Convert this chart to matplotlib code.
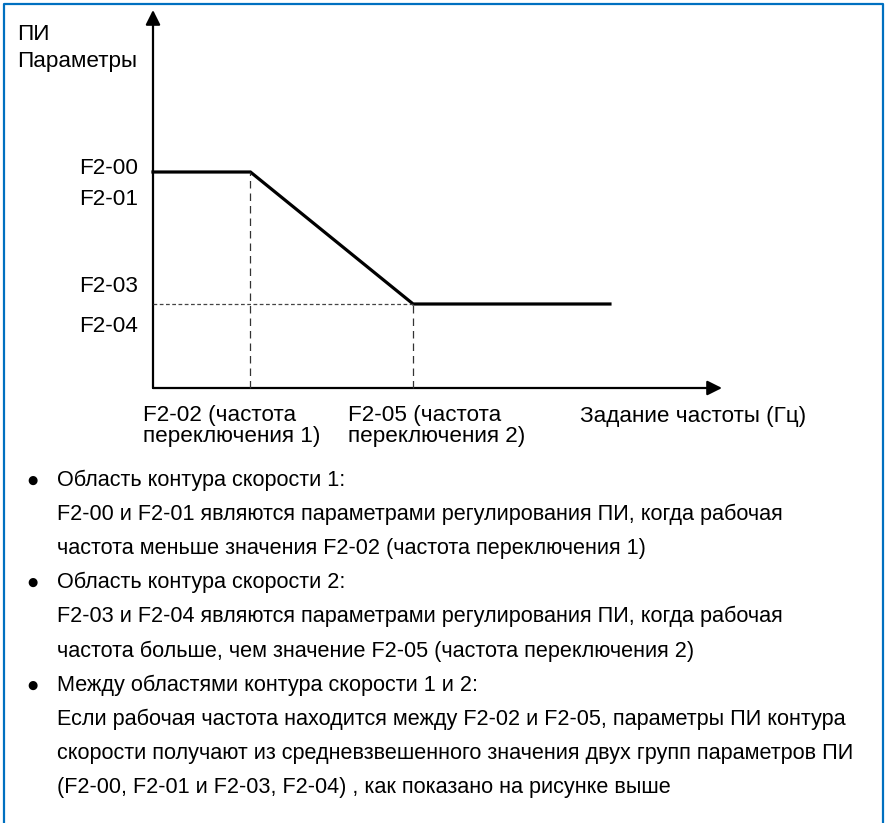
import matplotlib.pyplot as plt
from matplotlib.patches import FancyArrowPatch

plt.rcParams['font.family'] = ['Liberation Sans', 'DejaVu Sans']

# dati dello schema (unita' arbitrarie: frequenza / parametro PI)
curva_f = [0, 10, 26.7, 46.9]        # 0, F2-02, F2-05, fine
curva_p = [21.6, 21.6, 8.4, 8.4]     # F2-00/F2-01 ... F2-03/F2-04
f_max = 58.4
p_max = 37.8

etichette_y = ['F2-00', 'F2-01', 'F2-03', 'F2-04']
pos_etichette_y = [21.4, 18.3, 9.6, 5.6]
etichette_x = ['F2-02 (частота\nпереключения 1)', 'F2-05 (частота\nпереключения 2)']
titolo_y = 'ПИ\nПараметры'
titolo_x = 'Задание частоты (Гц)'

righe = [
    'Область контура скорости 1:',
    'F2-00 и F2-01 являются параметрами регулирования ПИ, когда рабочая',
    'частота меньше значения F2-02 (частота переключения 1)',
    'Область контура скорости 2:',
    'F2-03 и F2-04 являются параметрами регулирования ПИ, когда рабочая',
    'частота больше, чем значение F2-05 (частота переключения 2)',
    'Между областями контура скорости 1 и 2:',
    'Если рабочая частота находится между F2-02 и F2-05, параметры ПИ контура',
    'скорости получают из средневзвешенного значения двух групп параметров ПИ',
    '(F2-00, F2-01 и F2-03, F2-04) , как показано на рисунке выше',
]
puntate = [0, 3, 6]

W, H = 889, 823
fs = 16.2      # testo dello schema
fs_b = 15.6    # testo dell'elenco

fig = plt.figure(figsize=(W / 100, H / 100), dpi=100)

# asse di sfondo in pixel per testo e cornice
bg = fig.add_axes([0, 0, 1, 1])
bg.set_xlim(0, W)
bg.set_ylim(H, 0)
bg.axis('off')
bg.plot([4, 4, 883, 883], [H + 5, 4, 4, H + 5], color='#0070C0', lw=1.6, clip_on=False)

# asse dello schema
x0, y0, x1, y1 = 153, 388, 722, 10
ax = fig.add_axes([x0 / W, 1 - y0 / H, (x1 - x0) / W, (y0 - y1) / H])
ax.set_xlim(0, f_max)
ax.set_ylim(0, p_max)
ax.axis('off')

ax.add_patch(FancyArrowPatch((0, 0), (f_max, 0), arrowstyle='-|>', mutation_scale=22,
                             lw=1.6, color='black', shrinkA=0, shrinkB=0, clip_on=False))
ax.add_patch(FancyArrowPatch((0, 0), (0, p_max), arrowstyle='-|>', mutation_scale=22,
                             lw=1.6, color='black', shrinkA=0, shrinkB=0, clip_on=False))

ax.plot(curva_f, curva_p, color='black', lw=2.3, solid_joinstyle='miter', clip_on=False)
ax.plot([curva_f[1], curva_f[1]], [0, curva_p[1]], color='#333333', lw=0.9, dashes=(6, 4), clip_on=False)
ax.plot([curva_f[2], curva_f[2]], [0, curva_p[2]], color='#333333', lw=0.9, dashes=(6, 4), clip_on=False)
ax.plot([0, curva_f[2]], [curva_p[2], curva_p[2]], color='#444444', lw=0.9, dashes=(3, 2), clip_on=False)

for lab, p in zip(etichette_y, pos_etichette_y):
    ax.text(-1.5, p, lab, ha='right', va='baseline', fontsize=fs)

bg.text(17, 48, titolo_y, ha='left', va='center', fontsize=fs, linespacing=1.36)
for xl, lab in zip([143, 348], etichette_x):
    bg.text(xl, 426, lab, ha='left', va='center', fontsize=fs, linespacing=0.98)
bg.text(580, 422, titolo_x, ha='left', va='baseline', fontsize=fs)

# elenco puntato
y_riga = 480
passo = 34.2
for i, r in enumerate(righe):
    y = y_riga + i * passo
    bg.text(57, y, r, ha='left', va='center', fontsize=fs_b)
    if i in puntate:
        bg.text(32, y, '●', ha='center', va='center', fontsize=8.5, family='DejaVu Sans')

fig.savefig('out.png', dpi=100)
